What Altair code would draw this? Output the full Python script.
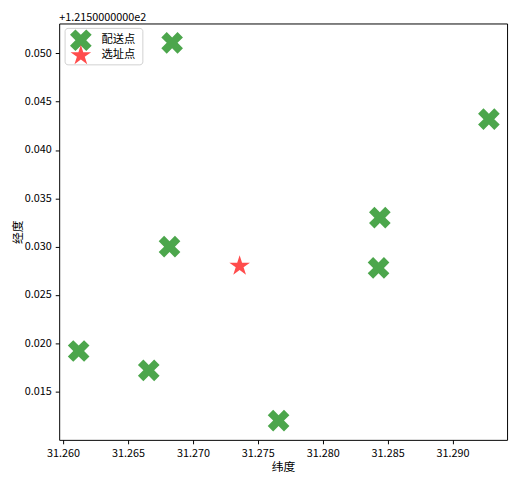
import altair as alt
import pandas as pd

# delivery points (纬度 x, 经度 y)
deliv_lat = [31.2612, 31.2666, 31.2682, 31.2684, 31.2766, 31.2843, 31.2844, 31.2928]
deliv_lon = [121.5192, 121.5172, 121.5300, 121.5511, 121.5120, 121.5278, 121.5330, 121.5432]
site_lat = [31.2736]
site_lon = [121.5280]
names = ["配送点", "选址点"]
colors = ["#4ca64c", "#ff4c4c"]

x_ticks = [31.260, 31.265, 31.270, 31.275, 31.280, 31.285, 31.290]
y_ticks = [121.515, 121.520, 121.525, 121.530, 121.535, 121.540, 121.545, 121.550]

df = pd.DataFrame({
    "lat": deliv_lat + site_lat,
    "lon": deliv_lon + site_lon,
    "kind": [names[0]] * len(deliv_lat) + [names[1]] * len(site_lat),
})

FONT = "Noto Sans CJK SC"
XPATH = "M-0.5,-1L0,-0.5L0.5,-1L1,-0.5L0.5,0L1,0.5L0.5,1L0,0.5L-0.5,1L-1,0.5L-0.5,0L-1,-0.5Z"
STAR = ("M0,-1L0.2245,-0.309L0.951,-0.309L0.363,0.118L0.588,0.809L0,0.382"
        "L-0.588,0.809L-0.363,0.118L-0.951,-0.309L-0.2245,-0.309Z")
shapes = [XPATH, STAR]

pts = alt.Chart(df).mark_point(filled=True, opacity=1, size=484, strokeWidth=0).encode(
    x=alt.X("lat:Q", scale=alt.Scale(domain=[31.2597, 31.2942], nice=False, zero=False),
            axis=alt.Axis(orient="bottom", values=x_ticks, format=".3f", title="纬度", grid=False,
                          tickSize=4, tickColor="black", domain=False,
                          labelFontSize=11, titleFontSize=12, labelColor="black",
                          titleColor="black", titleFontWeight="normal", labelPadding=4,
                          titlePadding=3, labelFont=FONT, titleFont=FONT)),
    y=alt.Y("lon:Q", scale=alt.Scale(domain=[121.5100, 121.5531], nice=False, zero=False),
            axis=alt.Axis(orient="left", values=y_ticks, labelExpr="format(datum.value - 121.5, '.3f')",
                          title="经度", grid=False, tickSize=4, tickColor="black", domain=False,
                          labelFontSize=11, titleFontSize=12, labelColor="black",
                          titleColor="black", titleFontWeight="normal", labelPadding=4,
                          titleAngle=270, titleBaseline="middle", titleAlign="center",
                          titleX=-42, titleY=211.5, labelFont=FONT, titleFont=FONT)),
    color=alt.Color("kind:N", scale=alt.Scale(domain=names, range=colors), legend=None),
    shape=alt.Shape("kind:N", scale=alt.Scale(domain=names, range=shapes), legend=None),
)

one = pd.DataFrame({"k": [0]})
leg_box = alt.Chart(one).mark_rect(fill="white", stroke="#cccccc", strokeWidth=1,
                                   cornerRadius=3, opacity=0.9).encode(
    x=alt.value(6), x2=alt.value(85), y=alt.value(5), y2=alt.value(42))
leg_layers = [leg_box]
for i, (nm, col, shp) in enumerate(zip(names, colors, shapes)):
    yy = 17 + 15.5 * i
    leg_layers.append(alt.Chart(one).mark_point(filled=True, opacity=1, size=484, strokeWidth=0).encode(
        x=alt.value(22), y=alt.value(yy), color=alt.value(col), shape=alt.value(shp)))
    leg_layers.append(alt.Chart(one).mark_text(align="left", baseline="middle", fontSize=11.5,
                                               font=FONT, color="black").encode(
        x=alt.value(43), y=alt.value(yy), text=alt.value(nm)))

chart = alt.layer(pts, *leg_layers).properties(
    width=455, height=423, autosize="none",
    padding={"left": 52, "top": 12, "right": 4, "bottom": 35},
    title=alt.TitleParams("+1.2150000000e2", anchor="start", fontSize=11, font=FONT,
                          fontWeight="normal", color="black", offset=1, frame="group"),
).configure_view(stroke="black", strokeWidth=1)

chart.save("out.html", embed_options={"renderer": "svg", "actions": False})
